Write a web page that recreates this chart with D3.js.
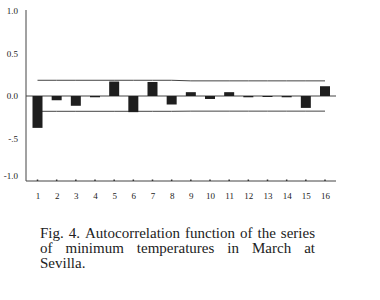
<!DOCTYPE html>
<html>
<head>
<meta charset="utf-8">
<script src="https://cdn.jsdelivr.net/npm/d3@7"></script>
<style>
  body { margin: 0; background: #fff; }
  svg { display: block; }
  text { font-family: "Liberation Serif", "DejaVu Serif", serif; fill: #222; }
</style>
</head>
<body>
<svg id="chart" width="380" height="300"></svg>
<script>
// ---- data ----
var lags = [1,2,3,4,5,6,7,8,9,10,11,12,13,14,15,16];
var acf = [-0.375,-0.05,-0.115,-0.015,0.17,-0.19,0.165,-0.10,0.045,-0.035,0.045,-0.015,-0.01,-0.015,-0.14,0.115];
var upperBound = [0.185,0.185,0.185,0.185,0.185,0.185,0.185,0.185,0.178,0.178,0.178,0.178,0.178,0.178,0.178,0.178];
var lowerBound = [-0.18,-0.18,-0.18,-0.18,-0.18,-0.18,-0.18,-0.18,-0.178,-0.178,-0.178,-0.178,-0.178,-0.178,-0.178,-0.178];
var yTicks = [1, 0.5, 0, -0.5, -1];
var yTickLabels = ["1.0", "0.5", "0.0", "-.5", "-1.0"];
var caption = ["Fig. 4. Autocorrelation function of the series",
               "of minimum temperatures in March at",
               "Sevilla."];

// ---- layout ----
var plotL = 26, plotR = 336, plotT = 11, plotB = 181;
var svg = d3.select("#chart");

var x = d3.scalePoint().domain(lags).range([37.5, 325]);
var y = d3.scaleLinear().domain([-1, 1]).range([plotB, plotT]);
var barW = 10;

// axes lines
svg.append("line").attr("x1", plotL).attr("x2", plotL).attr("y1", plotT - 1).attr("y2", plotB)
  .attr("stroke", "#444").attr("stroke-width", 1);
svg.append("line").attr("x1", plotL).attr("x2", plotR).attr("y1", plotB).attr("y2", plotB)
  .attr("stroke", "#444").attr("stroke-width", 1);

// y labels (bottom one sits a bit above the axis)
svg.selectAll("text.ylab").data(yTicks).enter().append("text")
  .attr("class", "ylab")
  .attr("x", 18).attr("y", function(d){ return Math.min(y(d), plotB - 5) + 3; })
  .attr("text-anchor", "end").attr("font-size", 9)
  .text(function(d, i){ return yTickLabels[i]; });

// x ticks & labels
var xAxis = d3.axisBottom(x).tickSize(0).tickPadding(0);
var gx = svg.append("g").attr("transform", "translate(0," + plotB + ")").call(xAxis);
gx.select(".domain").remove();
gx.selectAll("text").attr("y", 12).attr("font-size", 9)
  .style("font-family", "Liberation Serif, serif").attr("fill", "#222");
svg.selectAll("rect.tick").data(lags).enter().append("rect")
  .attr("class", "tick")
  .attr("x", function(d){ return x(d) - 0.75; }).attr("y", plotB - 1.5)
  .attr("width", 1.5).attr("height", 1.5).attr("fill", "#333");

// zero line
svg.append("line").attr("x1", plotL).attr("x2", plotR).attr("y1", y(0)).attr("y2", y(0))
  .attr("stroke", "#444").attr("stroke-width", 1);

// confidence bounds
var line = d3.line().x(function(d, i){ return x(lags[i]); }).y(function(d){ return y(d); });
svg.append("path").datum(upperBound).attr("d", line).attr("fill", "none").attr("stroke", "#444");
svg.append("path").datum(lowerBound).attr("d", line).attr("fill", "none").attr("stroke", "#444");

// bars
svg.selectAll("rect.bar").data(acf).enter().append("rect")
  .attr("class", "bar")
  .attr("x", function(d, i){ return x(lags[i]) - barW / 2; })
  .attr("y", function(d){ return y(Math.max(0, d)); })
  .attr("width", barW)
  .attr("height", function(d){ return Math.max(1, Math.abs(y(d) - y(0))); })
  .attr("fill", "#1e1e1e");

// caption (justified)
var capL = 40, capR = 315, capY = [237.5, 252.5, 267.5], capSize = 15;
caption.forEach(function(str, li){
  var words = str.split(" ");
  var g = svg.append("g");
  var widths = words.map(function(w){
    var t = g.append("text").attr("font-size", capSize).text(w);
    var wd = t.node().getComputedTextLength();
    t.remove();
    return wd;
  });
  var last = li === caption.length - 1;
  var total = d3.sum(widths);
  var gap = last ? 3.5 : (capR - capL - total) / (words.length - 1);
  var scaleX = 1;
  if (gap < 2.5) { gap = 2.5; scaleX = (capR - capL - gap * (words.length - 1)) / total; }
  var cx = capL;
  words.forEach(function(w, i){
    g.append("text").attr("x", cx).attr("y", capY[li]).attr("font-size", capSize)
      .attr("textLength", widths[i] * scaleX).attr("lengthAdjust", "spacingAndGlyphs").text(w);
    cx += widths[i] * scaleX + gap;
  });
});
</script>
</body>
</html>
